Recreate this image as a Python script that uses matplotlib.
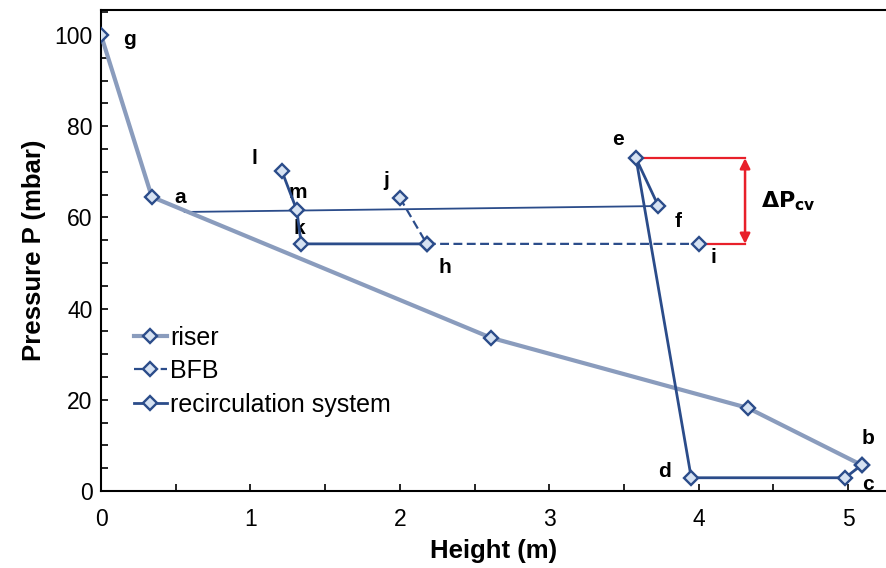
import matplotlib
matplotlib.use('Agg')
import matplotlib.pyplot as plt
from matplotlib.ticker import MultipleLocator

plt.rcParams['font.family'] = ['Liberation Sans', 'DejaVu Sans']

# riser: g -> a -> ... -> b
riser_x = [0.0, 0.34, 2.61, 4.33, 5.09]
riser_y = [100.0, 64.5, 33.6, 18.2, 5.7]

# BFB: j -> h -> i
bfb_x = [2.0, 2.18, 4.0]
bfb_y = [64.3, 54.2, 54.2]

# recirculation system: b -> c -> d -> e -> f
rec_x = [5.09, 4.98, 3.95, 3.58, 3.73]
rec_y = [5.7, 2.9, 2.9, 73.0, 62.5]
# l -> m -> k -> h
rec2_x = [1.21, 1.31, 1.34, 2.18]
rec2_y = [70.2, 61.6, 54.2, 54.2]
# thin line from riser to f
thin_x = [0.56, 3.73]
thin_y = [61.2, 62.5]

# point labels
lab_txt = ['g', 'a', 'l', 'm', 'k', 'j', 'h', 'e', 'f', 'i', 'b', 'c', 'd']
lab_x = [0.19, 0.53, 1.03, 1.32, 1.33, 1.91, 2.30, 3.46, 3.86, 4.10, 5.13, 5.13, 3.77]
lab_y = [99.0, 64.3, 72.9, 65.5, 57.5, 68.0, 49.0, 77.0, 59.0, 51.3, 11.5, 1.5, 4.2]

dark = '#2b4c8a'
light = '#8a9cbd'
mface = '#d6e2f2'

fig = plt.figure(figsize=(8.87, 5.68), dpi=100)
ax = fig.add_axes([0.1139, 0.1356, 0.8861, 0.8468])

mk = dict(marker='D', markersize=7, markerfacecolor=mface, markeredgecolor=dark,
          markeredgewidth=1.7)

ax.plot(thin_x, thin_y, color=dark, lw=1.3, zorder=2)
ax.plot(riser_x, riser_y, color=light, lw=3, label='riser', zorder=3, **mk)
ax.plot(bfb_x, bfb_y, color=dark, lw=1.6, ls=(0, (4, 2)), label='BFB', zorder=3, **mk)
ax.plot(rec_x, rec_y, color=dark, lw=2, label='recirculation system', zorder=4, **mk)
ax.plot(rec2_x, rec2_y, color=dark, lw=2, zorder=4, **mk)

# delta P arrow
e_x, e_y = rec_x[3], rec_y[3]
i_x, i_y = bfb_x[2], bfb_y[2]
xa = 4.31
red = '#e8202a'
ax.plot([e_x, xa], [e_y, e_y], color=red, lw=1.6, zorder=1)
ax.plot([i_x, xa], [i_y, i_y], color=red, lw=1.6, zorder=1)
ax.annotate('', xy=(xa, e_y), xytext=(xa, i_y),
            arrowprops=dict(arrowstyle='<|-|>', color=red, lw=1.8,
                            shrinkA=0, shrinkB=0, mutation_scale=15))
ax.text(4.42, 63.5, r'$\mathbf{\Delta P_{cv}}$', fontsize=16, va='center', ha='left')

for t, x, y in zip(lab_txt, lab_x, lab_y):
    ax.text(x, y, t, fontsize=15, fontweight='bold', ha='center', va='center')

ax.set_xlim(0, 5.26)
ax.set_ylim(0, 105.5)
ax.xaxis.set_major_locator(MultipleLocator(1))
ax.xaxis.set_minor_locator(MultipleLocator(0.5))
ax.yaxis.set_major_locator(MultipleLocator(20))
ax.yaxis.set_minor_locator(MultipleLocator(5))
ax.tick_params(which='both', direction='in', length=5, width=1.2, labelsize=16.5)
ax.tick_params(axis='x', pad=12)
ax.tick_params(axis='y', pad=6)
ax.spines['right'].set_visible(False)
for s in ['left', 'bottom', 'top']:
    ax.spines[s].set_linewidth(1.5)

ax.set_xlabel('Height (m)', fontsize=18.5, fontweight='bold', labelpad=6)
ax.set_ylabel('Pressure P (mbar)', fontsize=18.5, fontweight='bold', labelpad=6)

ax.legend(loc='upper left', bbox_to_anchor=(0.02, 0.38), frameon=False, fontsize=18,
          handlelength=1.3, handletextpad=0.15, labelspacing=0.38, borderpad=0.2)

fig.savefig('out.png', dpi=100)
plt.close()
